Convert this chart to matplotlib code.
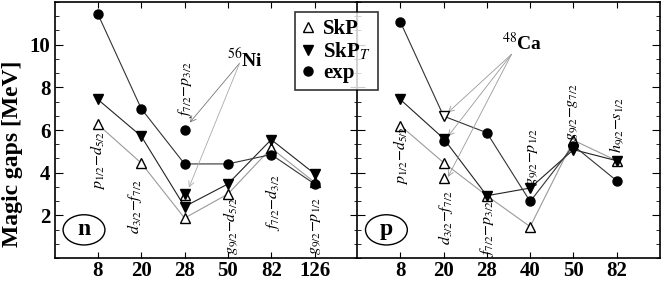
import matplotlib
matplotlib.use("Agg")
import matplotlib.pyplot as plt
from matplotlib.patches import Ellipse
from matplotlib.lines import Line2D
from matplotlib.ticker import MultipleLocator

plt.rcParams['font.family'] = ['Liberation Serif', 'DejaVu Serif']
plt.rcParams['mathtext.fontset'] = 'stix'

# neutron magic numbers and gaps (MeV)
n_magic = ['8', '20', '28', '50', '82', '126']
n_skp = [6.26, 4.45, 1.87, 3.0, 5.15, 3.55]
n_skpt = [7.43, 5.71, 2.41, 3.47, 5.55, 3.95]
n_exp = [11.43, 7.0, 4.41, 4.41, 4.85, 3.47]
# 56Ni at N=28
ni_skp = 2.95
ni_skpt = 2.98
ni_exp = 5.98
n_orbits = [r'$p_{1/2}{-}d_{5/2}$', r'$d_{3/2}{-}f_{7/2}$', r'$f_{7/2}{-}p_{3/2}$',
            r'$g_{9/2}{-}d_{5/2}$', r'$f_{7/2}{-}d_{3/2}$', r'$g_{9/2}{-}p_{1/2}$']

# proton magic numbers and gaps (MeV)
p_magic = ['8', '20', '28', '40', '50', '82']
p_skp = [6.21, 4.47, 2.92, 1.47, 5.52, 4.56]
p_skpt = [7.43, 5.6, 2.92, 3.28, 5.08, 4.56]
p_exp = [11.07, 6.65, 5.87, 2.65, 5.27, 3.62]
# 48Ca at Z=20
ca_skp = 3.76
ca_skpt = 6.65
ca_exp = 5.47
p_orbits = [r'$p_{1/2}{-}d_{5/2}$', r'$d_{3/2}{-}f_{7/2}$', r'$f_{7/2}{-}p_{3/2}$',
            r'$g_{9/2}{-}p_{1/2}$', r'$g_{9/2}{-}g_{7/2}$', r'$h_{9/2}{-}s_{1/2}$']

# where the orbit labels sit (x offset, y centre)
n_lab_pos = [(0.0, 4.6), (-0.15, 2.4), (0.0, 7.9), (0.05, 1.5), (0.03, 2.6), (0.02, 1.5)]
p_lab_pos = [(0.0, 4.8), (0.05, 1.9), (0.0, 1.4), (0.05, 4.75), (-0.03, 6.85), (0.0, 6.25)]

fig = plt.figure(figsize=(6.64, 2.82), dpi=100)
axL = fig.add_axes([0.0822, 0.085, 0.4568, 0.908])
axR = fig.add_axes([0.5377, 0.085, 0.4563, 0.908])

gray = '#9a9a9a'
ms_tri = 7
ms_circ = 6.5


def draw_panel(ax, skp, skpt, exp, orbits, lab_pos, magic, exp_hidden=None):
    x = list(range(1, len(magic) + 1))
    ax.plot(x, skp, '-', color=gray, lw=0.8, zorder=2)
    ax.plot(x, skpt, '-', color='#222222', lw=0.8, zorder=2)
    ax.plot(x, exp, '-', color='#333333', lw=0.8, zorder=2)
    ax.plot(x, skp, '^', ls='none', ms=ms_tri, mfc='white', mec='black', mew=1.0, zorder=3)
    ax.plot(x, skpt, 'v', ls='none', ms=ms_tri, color='black', zorder=4)
    keep = [i for i in range(len(x)) if i != exp_hidden]
    ax.plot([x[i] for i in keep], [exp[i] for i in keep], 'o', ls='none',
            ms=ms_circ, color='black', zorder=5)
    for i, lab in enumerate(orbits):
        dx, yc = lab_pos[i]
        ax.text(x[i] + dx, yc, lab, rotation=90, ha='center', va='center', fontsize=11.5)
    ax.set_xlim(0, 7)
    ax.set_ylim(0, 12)
    ax.set_xticks(x)
    ax.set_xticklabels(magic, fontsize=15, fontweight='bold')
    ax.yaxis.set_major_locator(MultipleLocator(2))
    ax.yaxis.set_minor_locator(MultipleLocator(2 / 3))
    ax.tick_params(axis='both', which='both', direction='in', top=True, right=True)
    ax.tick_params(axis='x', length=4, pad=2)
    ax.tick_params(axis='y', which='major', length=6)
    ax.tick_params(axis='y', which='minor', length=3)
    for s in ax.spines.values():
        s.set_linewidth(1.2)


draw_panel(axL, n_skp, n_skpt, n_exp, n_orbits, n_lab_pos, n_magic)
draw_panel(axR, p_skp, p_skpt, p_exp, p_orbits, p_lab_pos, p_magic, exp_hidden=1)

# 56Ni extra points
axL.plot(3, ni_skp, '^', ms=ms_tri, mfc='white', mec='black', mew=1.0, zorder=3)
axL.plot(3, ni_skpt, 'v', ms=ms_tri, color='black', zorder=4)
axL.plot(3, ni_exp, 'o', ms=ms_circ, color='black', zorder=5)

# 48Ca extra points
axR.plot(2, ca_skp, '^', ms=ms_tri, mfc='white', mec='black', mew=1.0, zorder=3)
axR.plot(2, ca_skpt, 'v', ms=ms_tri, mfc='white', mec='black', mew=1.0, zorder=6)
axR.plot(2, ca_exp, 'o', ms=ms_circ, color='black', zorder=5)

axL.set_yticks([2, 4, 6, 8, 10])
axL.set_yticklabels(['2', '4', '6', '8', '10'], fontsize=15, fontweight='bold')
axL.tick_params(axis='y', pad=3)
axR.set_yticks([2, 4, 6, 8, 10])
axR.set_yticklabels([])
axL.set_ylabel('Magic gaps [MeV]', fontsize=17, fontweight='bold')
axL.yaxis.set_label_coords(-0.104, 0.406)

# nucleus annotations
arrow = dict(arrowstyle='->', color='#777777', lw=0.6, shrinkA=0, shrinkB=0)
axL.text(4.4, 9.3, r'$^{56}$Ni', fontsize=14, fontweight='bold', ha='center', va='center')
axL.annotate('', xy=(3.12, 6.35), xytext=(4.27, 9.13), arrowprops=arrow)
axL.annotate('', xy=(3.1, 3.3), xytext=(4.27, 9.13), arrowprops=dict(arrow, color='#aaaaaa'))

axR.text(3.82, 10.07, r'$^{48}$Ca', fontsize=14, fontweight='bold', ha='center', va='center')
for yt in (6.82, 5.7, 3.8):
    axR.annotate('', xy=(2.1, yt), xytext=(3.57, 9.55), arrowprops=dict(arrow, color='#999999'))

# panel tags
for ax, tag in ((axL, 'n'), (axR, 'p')):
    ax.add_patch(Ellipse((0.097, 0.11), 0.138, 0.118, transform=ax.transAxes,
                         fill=False, ec='black', lw=1.0, zorder=6))
    ax.text(0.097, 0.11, tag, transform=ax.transAxes, ha='center', va='center',
            fontsize=17, fontweight='bold', zorder=7)

handles = [
    Line2D([], [], ls='none', marker='^', ms=ms_tri, mfc='white', mec='black', mew=1.0),
    Line2D([], [], ls='none', marker='v', ms=ms_tri, color='black'),
    Line2D([], [], ls='none', marker='o', ms=ms_circ, color='black'),
]
leg = fig.legend(handles, ['SkP', r'SkP$_{T}$', 'exp'], loc='upper left',
                 bbox_to_anchor=(0.444, 0.957), borderaxespad=0, frameon=True, fancybox=False,
                 handlelength=0.6, handletextpad=0.4, borderpad=0.35, labelspacing=0.05,
                 prop={'weight': 'bold', 'size': 15})
leg.get_frame().set_edgecolor('black')
leg.get_frame().set_linewidth(1.2)
leg.set_zorder(10)

fig.savefig('out.png', dpi=100)
